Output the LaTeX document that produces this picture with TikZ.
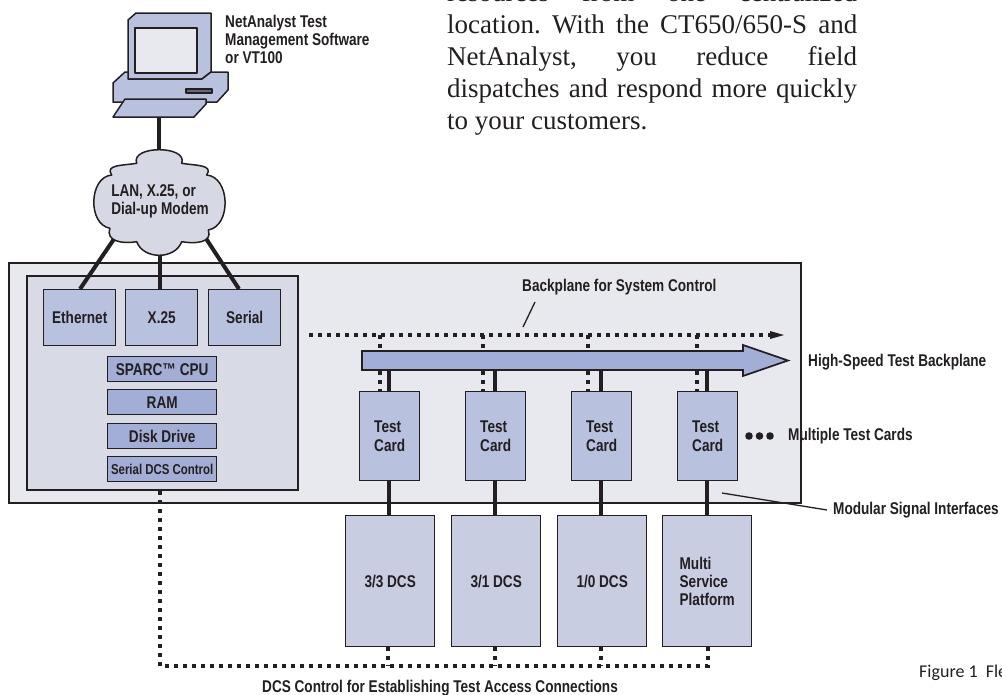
\documentclass[tikz,border=0pt]{standalone}
\usepackage{fontspec}
\setmainfont{Liberation Serif}
\newfontfamily\lab[FakeStretch=0.80]{Liberation Sans Bold}
\newfontfamily\figf{Carlito}
\definecolor{ink}{HTML}{231F20}
\definecolor{panel}{HTML}{E8E9EE}
\definecolor{inner}{HTML}{D8DAE6}
\definecolor{mid}{HTML}{B8C2DE}
\definecolor{deep}{HTML}{A2AED6}
\definecolor{dcsc}{HTML}{C8CDE2}
\definecolor{cloudc}{HTML}{D6D8E4}
\newcommand{\gp}{\hspace{0.2em plus 1fil}}
\begin{document}
\begin{tikzpicture}[x=1pt,y=-1pt,
  lbl/.style={font=\lab\fontsize{17}{18}\selectfont,text=ink,inner sep=0pt,align=left},
  box/.style={draw=ink,line width=1.4pt,fill=mid,inner sep=0pt,anchor=north west,font=\lab\fontsize{17}{19}\selectfont,text=ink,align=left},
  cpu/.style={box,fill=deep,minimum width=109pt,minimum height=25pt},
  netbox/.style={box,minimum width=72pt,minimum height=56pt},
  card/.style={box,minimum width=60pt,minimum height=89pt},
  dcs/.style={box,fill=dcsc,minimum width=89pt,minimum height=131pt,font=\lab\fontsize{17}{18}\selectfont},
  solid link/.style={draw=ink,line width=4pt},
  dot link/.style={draw=ink,line width=4pt,dash pattern=on 4pt off 5pt},
  leader/.style={draw=ink,line width=1.3pt},
  part/.style={draw=ink,line width=1.5pt,line join=round},
  para/.style={anchor=base west,inner sep=0pt,font=\fontsize{27}{32}\selectfont,text=ink}]
\path[use as bounding box,clip] (0,0) rectangle (1002,694);
\fill[white] (0,0) rectangle (1002,694);
% text column
\node[para] (para1) at (447,1) {\hbox to 410pt{resources\gp from\gp one\gp centralized}};
\node[para] (para2) at (447,33) {\hbox to 410pt{location.\gp With\gp the\gp CT650/650-S\gp and}};
\node[para] (para3) at (447,65.5) {\hbox to 410pt{NetAnalyst,\gp you\gp reduce\gp field}};
\node[para] (para4) at (447,97.5) {\hbox to 410pt{dispatches\gp and\gp respond\gp more\gp quickly}};
\node[para] (para5) at (447,129.5) {to your customers.};
% panels
\draw[draw=ink,line width=1.5pt,fill=panel] (9,263) rectangle (801,503);
\draw[draw=ink,line width=1.3pt,fill=inner] (27,276) rectangle (298,490);
% computer
\coordinate (kbdb) at (159,117);
\coordinate (cloudt) at (159,152);
\coordinate (cloudl) at (114,239);
\coordinate (cloudm) at (159.5,250);
\coordinate (cloudr) at (205,237);
\node[netbox] (eth) at (43,289) {\hbox to 72pt{\hfill Ethernet\hfill}};
\node[netbox] (x25) at (125,289) {\hbox to 72pt{\hfill X.25\hfill}};
\node[netbox] (ser) at (208,289) {\hbox to 71pt{\hfill Serial\hfill}};
\draw[solid link] (kbdb) -- (cloudt);
\draw[solid link] (cloudl) -- (80,289);
\draw[solid link] (cloudm) -- (cloudm |- x25.north);
\draw[solid link] (cloudr) -- (239,289);
\draw[part,fill=mid] (128,20) -- (136,13) -- (211,13) -- (211,72) -- (202,79) -- (128,79) -- cycle;
\draw[part,fill=mid] (113,83) -- (125,72) -- (128,72) -- (128,79) -- (202,79) -- (211,72) -- (228,72) -- (228,90) -- (217,102) -- (113,102) -- cycle;
\draw[part,fill=panel] (135,28) rectangle (197,73);
\draw[part,fill=ink!55!mid,line width=1.2pt] (186,89) rectangle (212,93);
\draw[part,fill=mid] (113,117) -- (125,99) -- (206,99) -- (206,104) -- (194,117) -- cycle;
% cloud
\draw[part,fill=cloudc] (111.7,175) to[out=125,in=190,looseness=1.2] (136.7,163.3)
  to[out=110,in=70,looseness=1.1] (181.7,163.3)
  to[out=350,in=55,looseness=1.2] (206.7,175)
  to[out=-5,in=10,looseness=1.1] (208.3,230)
  to[out=-70,in=-10,looseness=1.2] (181.7,241.7)
  to[out=-110,in=-70,looseness=1.1] (136.7,241.7)
  to[out=190,in=-110,looseness=1.2] (110,228.3)
  to[out=170,in=185,looseness=1.1] (111.7,175) -- cycle;
\node[lbl,anchor=center] (cloud) at (160,201) {LAN, X.25, or\\Dial-up Modem};
% cpu
\node[cpu] (sparc) at (107,356) {SPARC™ CPU};
\node[cpu] (ram) at (107,389) {RAM};
\node[cpu] (disk) at (107,423) {Disk Drive};
\node[cpu,font=\lab\fontsize{14.3}{16}\selectfont] (sdcs) at (107,456) {Serial DCS Control};
% cards
\node[card] (c1) at (359,391) {Test\\Card};
\node[card] (c2) at (465,391) {Test\\Card};
\node[card] (c3) at (571,391) {Test\\Card};
\node[card] (c4) at (677,391) {Test\\Card};
\node[dcs] (d1) at (345,515) {3/3 DCS};
\node[dcs] (d2) at (451,515) {3/1 DCS};
\node[dcs] (d3) at (557,515) {1/0 DCS};
\node[dcs] (d4) at (662,515) {Multi\\Service\\Platform};
\coordinate (bp1) at (380,335);
\coordinate (bp2) at (483,335);
\coordinate (bp3) at (588,335);
\coordinate (bp4) at (697,335);
\coordinate (bpstart) at (309,335);
\coordinate (bpend) at (772,335);
\draw[dot link] (bpstart) -- (bpend);
\fill[ink] (770,331) -- (784,335) -- (770,339) -- cycle;
\foreach \c in {1,2,3,4} \draw[dot link] (bp\c) -- (bp\c |- c\c.north);
\coordinate (hs1) at (389,370);
\coordinate (hs2) at (495,370);
\coordinate (hs3) at (601,370);
\coordinate (hs4) at (707,370);
\foreach \c in {1,2,3,4} {
  \draw[solid link] (hs\c) -- (hs\c |- c\c.north);
  \draw[solid link] (hs\c |- c\c.south) -- (hs\c |- d\c.north);
}
% high speed arrow
\draw[part,fill=deep,line width=1.7pt,miter limit=10,line join=miter] (362,351) -- (743,351) -- (743,345) -- (788,360.5) -- (743,376) -- (743,370) -- (362,370) -- cycle;
% dcs control
\coordinate (sd) at (160,491);
\coordinate (dl) at (160,666);
\coordinate (b1) at (387.5,666);
\coordinate (b2) at (494.5,666);
\coordinate (b3) at (601,666);
\coordinate (b4) at (708,666);
\draw[dot link] (sd) -- (dl) -- (b4) -- (b4 |- d4.south);
\draw[dot link] (b1 |- d1.south) -- (b1);
\draw[dot link] (b2 |- d2.south) -- (b2);
\draw[dot link] (b3 |- d3.south) -- (b3);
% labels
\node[lbl,anchor=north west] (na) at (225,15) {NetAnalyst Test\\Management Software\\or VT100};
\node[lbl,anchor=west] (bpl) at (522,287) {Backplane for System Control};
\coordinate (bpla) at (535,302);
\coordinate (bplb) at (523,327);
\draw[leader] (bpla) -- (bplb);
\node[lbl,anchor=west] (hs) at (808,362) {High-Speed Test Backplane};
\fill[ink] (749,436) circle (3.8) (759.5,436) circle (3.8) (770,436) circle (3.8);
\node[lbl,anchor=west] (mt) at (788,436) {Multiple Test Cards};
\node[lbl,anchor=west] (ms) at (833,510) {Modular Signal Interfaces};
\coordinate (msl) at (722,493);
\draw[leader] (msl) -- ([xshift=-6pt]ms.west);
\node[lbl,anchor=west] (dc) at (262,688) {DCS Control for Establishing Test Access Connections};
\node[anchor=base west,inner sep=0pt,font=\figf\fontsize{18}{20}\selectfont,text=ink] (fig) at (919,677) {Figure 1\ \ Fle};
\end{tikzpicture}
\end{document}
